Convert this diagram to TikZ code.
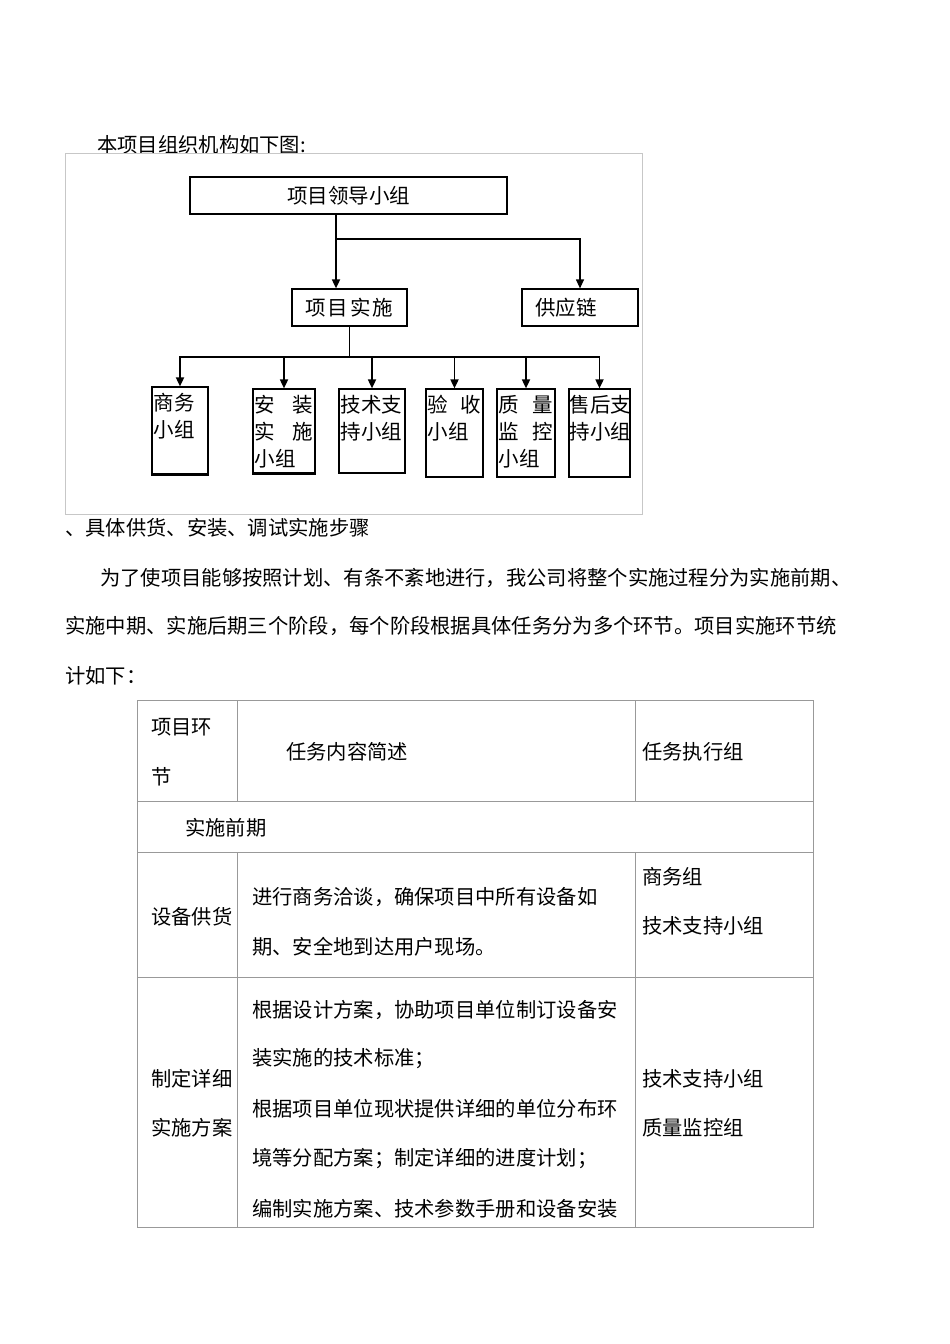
\documentclass[tikz,border=0pt]{standalone}
\usepackage{fontspec}
\setmainfont{Noto Sans CJK SC}
\usetikzlibrary{arrows.meta,positioning}
\definecolor{rulegray}{gray}{0.6}
\definecolor{framegray}{gray}{0.78}
\tikzset{
  txt/.style={anchor=west, inner sep=0pt, font=\fontsize{20.3}{24}\selectfont},
  box/.style={draw, line width=1.2pt, inner sep=0pt, font=\fontsize{20.5}{24}\selectfont},
  grp/.style={inner sep=0pt, align=left, font=\fontsize{20.5}{27}\selectfont},
  link/.style={line width=1.7pt, -{Triangle[length=9pt,width=8pt]}},
  rule/.style={draw=rulegray, line width=0.9pt},
}

\begin{document}
\begin{tikzpicture}[x=1pt,y=-1pt]
	\useasboundingbox[fill=white] (0,0) rectangle (950,1344);

	% organisation chart
	\node[txt] (charttitle) at (97,145) {本项目组织机构如下图:};
	\draw[framegray, line width=1pt] (65,153) rectangle (642,514);
	\node[box, minimum width=317, minimum height=37] (lead) at (348.5,195.5) {项目领导小组};
	\node[box, minimum width=115, minimum height=37] (impl) at (349.5,307.5) {项\hspace{2pt}目\hspace{2pt}实\hspace{2pt}施};
	\node[box, minimum height=37, text width=90pt, inner xsep=13pt, align=left] (supply) at (580,307.5) {供应链};
	\coordinate (split) at (336,239);
	\draw[link] (lead.south -| split) -- (impl.north -| split);
	\draw[link, line width=1.2pt] (split) -| (supply.north);
	\coordinate (bus) at (349.5,357);
	\draw[line width=1.7pt] (impl.south) -- (bus);
	\foreach \name/\cx/\cy/\w/\h in {biz/180/430.5/56/87, inst/284/431/62/84, tech/372/431/66/84, accept/454.5/433/57/88, qual/526/433/58/88, after/599.5/433/61/88} {
		\node[box, minimum width=\w, minimum height=\h] (\name) at (\cx,\cy) {};
		\draw[link] (bus) -| (\name.north);
	}
	\draw[line width=2.6pt] (biz.south west) -- (biz.south east);
	\draw[line width=2.6pt] (inst.south west) -- (inst.south east);
	\node[grp, text width=52pt, below right=7pt and 2pt of biz.north west] (bizlbl) {商务\\小组};
	\node[grp, text width=58pt, below right=7pt and 2pt of inst.north west] (instlbl) {安\hfill 装\\实\hfill 施\\小组};
	\node[grp, text width=62pt, below right=7pt and 2pt of tech.north west] (techlbl) {技术支\\持小组};
	\node[grp, text width=53pt, below right=7pt and 2pt of accept.north west] (acceptlbl) {验\hfill 收\\小组};
	\node[grp, text width=54pt, below right=7pt and 2pt of qual.north west] (quallbl) {质\hfill 量\\监\hfill 控\\小组};
	\node[grp, text width=61pt, below right=7pt and 1pt of after.north west] (afterlbl) {售后支\\持小组};

	% text below the chart
	\node[txt] (steps) at (65,528) {、具体供货、安装、调试实施步骤};
	\node[txt] (para1) at (100,578) {为了使项目能够按照计划、有条不紊地进行，我公司将整个实施过程分为实施前期、};
	\node[txt] (para2) at (65,626) {实施中期、实施后期三个阶段，每个阶段根据具体任务分为多个环节。项目实施环节统};
	\node[txt] (para3) at (65,676) {计如下：};

	% table
	\draw[rule] (137,700) rectangle (813,1227);
	\foreach \y in {801,852,977} \draw[rule] (137,\y) -- (813,\y);
	\foreach \x in {237,635} {\draw[rule] (\x,700) -- (\x,801); \draw[rule] (\x,852) -- (\x,1227);}
	\node[txt] (head1a) at (151,727) {项目环};
	\node[txt] (head1b) at (151,777) {节};
	\node[txt] (head2) at (286,752) {任务内容简述};
	\node[txt] (head3) at (642,752) {任务执行组};
	\node[txt] (phase) at (185,828) {实施前期};
	\node[txt] (supplystep) at (151,917) {设备供货};
	\node[txt] (supplytask1) at (252,897) {进行商务洽谈，确保项目中所有设备如};
	\node[txt] (supplytask2) at (252,947) {期、安全地到达用户现场。};
	\node[txt] (supplygrp1) at (642,877) {商务组};
	\node[txt] (supplygrp2) at (642,926) {技术支持小组};
	\node[txt] (planstep1) at (151,1079) {制定详细};
	\node[txt] (planstep2) at (151,1128) {实施方案};
	\foreach \y/\t [count=\i] in {1010/根据设计方案，协助项目单位制订设备安, 1059/装实施的技术标准；, 1109/根据项目单位现状提供详细的单位分布环, 1159/境等分配方案；制定详细的进度计划；, 1209/编制实施方案、技术参数手册和设备安装}
		\node[txt] (plantask\i) at (252,\y) {\t};
	\node[txt] (plangrp1) at (642,1079) {技术支持小组};
	\node[txt] (plangrp2) at (642,1128) {质量监控组};
\end{tikzpicture}
\end{document}
